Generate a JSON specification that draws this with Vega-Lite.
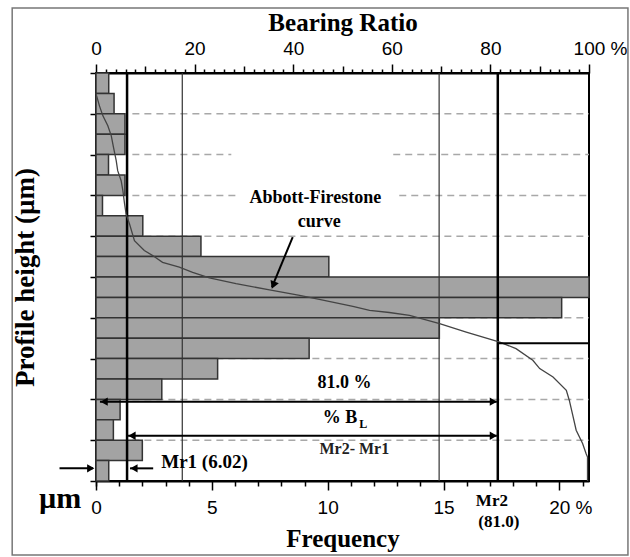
{
  "$schema": "https://vega.github.io/schema/vega-lite/v6.json",
  "width": 493,
  "height": 408,
  "autosize": {"type": "none"},
  "padding": {"left": 96, "top": 73, "right": 41, "bottom": 76},
  "background": "white",
  "config": {"view": {"stroke": "black", "strokeWidth": 2}, "axis": {"grid": false, "labelOverlap": false, "labelFlush": false}},
  "resolve": {"scale": {"x": "independent"}, "axis": {"x": "independent"}},
  "layer": [
    {
      "resolve": {"axis": {"x": "independent"}},
      "layer": [
        {
          "data": {"values": [
            {"lvl": 18, "f0": 1.57, "f1": 21.28},
            {"lvl": 16, "f0": 1.57, "f1": 5.84},
            {"lvl": 16, "f0": 12.83, "f1": 21.28},
            {"lvl": 14, "f0": 1.57, "f1": 6.06},
            {"lvl": 14, "f0": 13.09, "f1": 21.28},
            {"lvl": 12, "f0": 1.57, "f1": 21.28},
            {"lvl": 8, "f0": 1.57, "f1": 21.28},
            {"lvl": 6, "f0": 1.57, "f1": 21.28},
            {"lvl": 4, "f0": 1.57, "f1": 21.28},
            {"lvl": 2, "f0": 1.57, "f1": 21.28}
          ]},
          "mark": {"type": "rule", "strokeDash": [7, 5], "color": "#a8a8a8", "strokeWidth": 1.5},
          "encoding": {
            "x": {"field": "f0", "type": "quantitative",
              "scale": {"domain": [0, 21.28], "nice": false, "zero": false},
              "axis": {
                "orient": "bottom",
                "values": [0, 5, 10, 15, 20],
                "labelExpr": "datum.value === 20 ? '20 %' : datum.label",
                "labelOffset": {"condition": {"test": "datum.value === 20", "value": 11}, "value": 0},
                "tickSize": 9,
                "tickWidth": 1.5, "tickColor": "black",
                "domainColor": "black", "domainWidth": 2,
                "labelFont": "Liberation Sans", "labelFontSize": 19, "labelColor": "black",
                "labelPadding": 8, "labelFlush": false, "labelOverlap": false,
                "title": "Frequency", "titleFont": "Liberation Serif", "titleFontSize": 25,
                "titleFontWeight": "bold", "titleColor": "black", "titlePadding": 9
              }},
            "x2": {"field": "f1"},
            "y": {"field": "lvl", "type": "quantitative",
              "scale": {"domain": [0, 20], "nice": false, "zero": false},
              "axis": {
                "orient": "left",
                "values": [0,1,2,3,4,5,6,7,8,9,10,11,12,13,14,15,16,17,18,19,20],
                "labels": false,
                "tickSize": 6, "tickWidth": 1.5, "tickColor": "black",
                "domainColor": "black", "domainWidth": 2,
                "title": "Profile height (µm)", "titleFont": "Liberation Serif", "titleFontSize": 27,
                "titleFontWeight": "bold", "titleColor": "black", "titlePadding": 50
              }}
          }
        },
        {
          "data": {"values": [
            {"lo": 19, "hi": 20, "freq": 0.55},
            {"lo": 18, "hi": 19, "freq": 0.78},
            {"lo": 17, "hi": 18, "freq": 1.25},
            {"lo": 16, "hi": 17, "freq": 1.25},
            {"lo": 15, "hi": 16, "freq": 0.54},
            {"lo": 14, "hi": 15, "freq": 1.25},
            {"lo": 13, "hi": 14, "freq": 0.28},
            {"lo": 12, "hi": 13, "freq": 2.02},
            {"lo": 11, "hi": 12, "freq": 4.53},
            {"lo": 10, "hi": 11, "freq": 10.05},
            {"lo": 9, "hi": 10, "freq": 21.28},
            {"lo": 8, "hi": 9, "freq": 20.1},
            {"lo": 7, "hi": 8, "freq": 14.82},
            {"lo": 6, "hi": 7, "freq": 9.2},
            {"lo": 5, "hi": 6, "freq": 5.25},
            {"lo": 4, "hi": 5, "freq": 2.84},
            {"lo": 3, "hi": 4, "freq": 1.04},
            {"lo": 2, "hi": 3, "freq": 0.75},
            {"lo": 1, "hi": 2, "freq": 2.0},
            {"lo": 0, "hi": 1, "freq": 0.55}
          ]},
          "mark": {"type": "rect", "fill": "#a3a3a3", "stroke": "#333333", "strokeWidth": 1.5},
          "encoding": {
            "x": {"field": "freq", "type": "quantitative", "scale": {"domain": [0, 21.28], "nice": false, "zero": false},
              "axis": {
                "orient": "bottom",
                "values": [0,1,2,3,4,6,7,8,9,11,12,13,14,16,17,18,19,21],
                "labels": false, "domain": false, "title": null,
                "tickSize": 5, "tickWidth": 1.5, "tickColor": "black"
              }},
            "x2": {"datum": 0},
            "y": {"field": "lo", "type": "quantitative", "scale": {"domain": [0, 20], "nice": false, "zero": false}},
            "y2": {"field": "hi"}
          }
        }
      ]
    },
    {
      "resolve": {"axis": {"x": "independent"}},
      "layer": [
        {
          "data": {"values": [{"br": 6.3}, {"br": 81.5}]},
          "mark": {"type": "rule", "color": "black", "strokeWidth": 2.5},
          "encoding": {
            "x": {"field": "br", "type": "quantitative",
              "scale": {"domain": [0, 100], "nice": false, "zero": false},
              "axis": {
                "orient": "top",
                "values": [0, 20, 40, 60, 80, 100],
                "labelExpr": "datum.value === 100 ? '100 %' : datum.label",
                "labelOffset": {"condition": {"test": "datum.value === 100", "value": 11}, "value": 0},
                "tickSize": 9,
                "tickWidth": 1.5, "tickColor": "black",
                "domainColor": "black", "domainWidth": 2,
                "labelFont": "Liberation Sans", "labelFontSize": 19, "labelColor": "black",
                "labelPadding": 6, "labelFlush": false, "labelOverlap": false,
                "title": "Bearing Ratio", "titleFont": "Liberation Serif", "titleFontSize": 25,
                "titleFontWeight": "bold", "titleColor": "black", "titlePadding": 4
              }}
          }
        },
        {
          "data": {"values": [{"br": 17.5}, {"br": 69.6}]},
          "mark": {"type": "rule", "color": "#333333", "strokeWidth": 1.2},
          "encoding": {
            "x": {"field": "br", "type": "quantitative", "scale": {"domain": [0, 100], "nice": false, "zero": false},
              "axis": {
                "orient": "top",
                "values": [2,4,6,8,10,12,14,16,18,22,24,26,28,30,32,34,36,38,42,44,46,48,50,52,54,56,58,62,64,66,68,70,72,74,76,78,82,84,86,88,90,92,94,96,98],
                "labels": false, "domain": false, "title": null,
                "tickSize": {"condition": {"test": "datum.value % 10 === 0", "value": 7}, "value": 4},
                "tickWidth": 1.5, "tickColor": "black"
              }}
          }
        },
        {
          "data": {"values": [
            {"i": 0, "br": 0.1, "lvl": 18.9},
            {"i": 1, "br": 0.7, "lvl": 18.39},
            {"i": 2, "br": 1.4, "lvl": 17.9},
            {"i": 3, "br": 2.4, "lvl": 17.41},
            {"i": 4, "br": 3.1, "lvl": 16.92},
            {"i": 5, "br": 3.55, "lvl": 16.35},
            {"i": 6, "br": 4.1, "lvl": 15.7},
            {"i": 7, "br": 4.4, "lvl": 15.21},
            {"i": 8, "br": 5.1, "lvl": 14.72},
            {"i": 9, "br": 5.45, "lvl": 14.23},
            {"i": 10, "br": 5.8, "lvl": 13.58},
            {"i": 11, "br": 6.1, "lvl": 13.09},
            {"i": 12, "br": 6.8, "lvl": 12.6},
            {"i": 13, "br": 7.8, "lvl": 11.78},
            {"i": 14, "br": 9.8, "lvl": 11.3},
            {"i": 15, "br": 11.5, "lvl": 11.05},
            {"i": 16, "br": 13.5, "lvl": 10.72},
            {"i": 17, "br": 16.9, "lvl": 10.48},
            {"i": 18, "br": 19.6, "lvl": 10.23},
            {"i": 19, "br": 23.0, "lvl": 9.96},
            {"i": 20, "br": 28.4, "lvl": 9.67},
            {"i": 21, "br": 35.2, "lvl": 9.37},
            {"i": 22, "br": 41.3, "lvl": 9.1},
            {"i": 23, "br": 45.3, "lvl": 8.9},
            {"i": 24, "br": 52.1, "lvl": 8.56},
            {"i": 25, "br": 55.5, "lvl": 8.36},
            {"i": 26, "br": 59.5, "lvl": 8.26},
            {"i": 27, "br": 63.6, "lvl": 8.12},
            {"i": 28, "br": 69.7, "lvl": 7.71},
            {"i": 29, "br": 75.1, "lvl": 7.3},
            {"i": 30, "br": 81.9, "lvl": 6.81},
            {"i": 31, "br": 85.2, "lvl": 6.49},
            {"i": 32, "br": 88.6, "lvl": 5.92},
            {"i": 33, "br": 90.0, "lvl": 5.51},
            {"i": 34, "br": 92.7, "lvl": 5.1},
            {"i": 35, "br": 95.4, "lvl": 4.45},
            {"i": 36, "br": 96.0, "lvl": 3.96},
            {"i": 37, "br": 96.7, "lvl": 3.23},
            {"i": 38, "br": 97.4, "lvl": 2.49},
            {"i": 39, "br": 98.7, "lvl": 1.84},
            {"i": 40, "br": 99.4, "lvl": 1.35},
            {"i": 41, "br": 99.7, "lvl": 1.17},
            {"i": 42, "br": 99.7, "lvl": 0}
          ]},
          "mark": {"type": "line", "color": "#444444", "strokeWidth": 1.3},
          "encoding": {
            "x": {"field": "br", "type": "quantitative", "scale": {"domain": [0, 100], "nice": false, "zero": false}, "axis": null},
            "y": {"field": "lvl", "type": "quantitative", "scale": {"domain": [0, 20], "nice": false, "zero": false}},
            "order": {"field": "i", "type": "quantitative"}
          }
        },
        {
          "data": {"values": [
            {"x0": 0.8, "x1": 81.3, "y0": 3.89, "y1": 3.89},
            {"x0": 6.5, "x1": 81.3, "y0": 2.22, "y1": 2.22},
            {"x0": -7.4, "x1": -0.6, "y0": 0.62, "y1": 0.62},
            {"x0": 6.9, "x1": 11.6, "y0": 0.62, "y1": 0.62},
            {"x0": 39.9, "x1": 35.7, "y0": 11.96, "y1": 9.5},
            {"x0": 81.5, "x1": 100, "y0": 6.75, "y1": 6.75}
          ]},
          "mark": {"type": "rule", "color": "black", "strokeWidth": 2},
          "encoding": {
            "x": {"field": "x0", "type": "quantitative", "scale": {"domain": [0, 100], "nice": false, "zero": false}, "axis": null},
            "x2": {"field": "x1"},
            "y": {"field": "y0", "type": "quantitative", "scale": {"domain": [0, 20], "nice": false, "zero": false}},
            "y2": {"field": "y1"}
          }
        },
        {
          "data": {"values": [
            {"br": 1.65, "lvl": 3.89},
            {"br": 7.3, "lvl": 2.22},
            {"br": 7.7, "lvl": 0.62}
          ]},
          "mark": {"type": "point", "shape": "triangle-left", "filled": true, "color": "black", "opacity": 1, "size": 70},
          "encoding": {
            "x": {"field": "br", "type": "quantitative", "scale": {"domain": [0, 100], "nice": false, "zero": false}, "axis": null},
            "y": {"field": "lvl", "type": "quantitative", "scale": {"domain": [0, 20], "nice": false, "zero": false}}
          }
        },
        {
          "data": {"values": [
            {"br": 80.6, "lvl": 3.89},
            {"br": 80.6, "lvl": 2.22},
            {"br": -1.06, "lvl": 0.62}
          ]},
          "mark": {"type": "point", "shape": "triangle-right", "filled": true, "color": "black", "opacity": 1, "size": 70},
          "encoding": {
            "x": {"field": "br", "type": "quantitative", "scale": {"domain": [0, 100], "nice": false, "zero": false}, "axis": null},
            "y": {"field": "lvl", "type": "quantitative", "scale": {"domain": [0, 20], "nice": false, "zero": false}}
          }
        },
        {
          "data": {"values": [{"br": 35.95, "lvl": 9.6}]},
          "mark": {"type": "point", "shape": "triangle-down", "filled": true, "color": "black", "opacity": 1, "size": 80, "angle": 22},
          "encoding": {
            "x": {"field": "br", "type": "quantitative", "scale": {"domain": [0, 100], "nice": false, "zero": false}, "axis": null},
            "y": {"field": "lvl", "type": "quantitative", "scale": {"domain": [0, 20], "nice": false, "zero": false}}
          }
        },
        {
          "data": {"values": [
            {"t": "Abbott-Firestone", "br": 44.5, "lvl": 13.85},
            {"t": "curve", "br": 45.3, "lvl": 12.68}
          ]},
          "mark": {"type": "text", "font": "Liberation Serif", "fontWeight": "bold", "fontSize": 18, "color": "black", "align": "center", "baseline": "middle"},
          "encoding": {
            "x": {"field": "br", "type": "quantitative", "scale": {"domain": [0, 100], "nice": false, "zero": false}, "axis": null},
            "y": {"field": "lvl", "type": "quantitative", "scale": {"domain": [0, 20], "nice": false, "zero": false}},
            "text": {"field": "t"}
          }
        },
        {
          "data": {"values": [
            {"t": "Mr2", "br": 80.3, "lvl": -0.98},
            {"t": "(81.0)", "br": 81.7, "lvl": -2.03}
          ]},
          "mark": {"type": "text", "font": "Liberation Serif", "fontWeight": "bold", "fontSize": 17, "color": "black", "align": "center", "baseline": "middle"},
          "encoding": {
            "x": {"field": "br", "type": "quantitative", "scale": {"domain": [0, 100], "nice": false, "zero": false}, "axis": null},
            "y": {"field": "lvl", "type": "quantitative", "scale": {"domain": [0, 20], "nice": false, "zero": false}},
            "text": {"field": "t"}
          }
        },
        {
          "data": {"values": [
            {"t": "81.0 %", "br": 50.4, "lvl": 4.8},
            {"t": "% B", "br": 49.5, "lvl": 3.1}
          ]},
          "mark": {"type": "text", "font": "Liberation Serif", "fontWeight": "bold", "fontSize": 18, "color": "black", "align": "center", "baseline": "middle"},
          "encoding": {
            "x": {"field": "br", "type": "quantitative", "scale": {"domain": [0, 100], "nice": false, "zero": false}, "axis": null},
            "y": {"field": "lvl", "type": "quantitative", "scale": {"domain": [0, 20], "nice": false, "zero": false}},
            "text": {"field": "t"}
          }
        },
        {
          "data": {"values": [{"t": "L", "br": 54.2, "lvl": 2.78}]},
          "mark": {"type": "text", "font": "Liberation Serif", "fontWeight": "bold", "fontSize": 12, "color": "black", "align": "center", "baseline": "middle"},
          "encoding": {
            "x": {"field": "br", "type": "quantitative", "scale": {"domain": [0, 100], "nice": false, "zero": false}, "axis": null},
            "y": {"field": "lvl", "type": "quantitative", "scale": {"domain": [0, 20], "nice": false, "zero": false}},
            "text": {"field": "t"}
          }
        },
        {
          "data": {"values": [{"t": "Mr2- Mr1", "br": 52.4, "lvl": 1.57}]},
          "mark": {"type": "text", "font": "Liberation Serif", "fontWeight": "bold", "fontSize": 16, "color": "#222222", "align": "center", "baseline": "middle"},
          "encoding": {
            "x": {"field": "br", "type": "quantitative", "scale": {"domain": [0, 100], "nice": false, "zero": false}, "axis": null},
            "y": {"field": "lvl", "type": "quantitative", "scale": {"domain": [0, 20], "nice": false, "zero": false}},
            "text": {"field": "t"}
          }
        },
        {
          "data": {"values": [{"t": "Mr1 (6.02)", "br": 22.0, "lvl": 0.95}]},
          "mark": {"type": "text", "font": "Liberation Serif", "fontWeight": "bold", "fontSize": 19, "color": "black", "align": "center", "baseline": "middle"},
          "encoding": {
            "x": {"field": "br", "type": "quantitative", "scale": {"domain": [0, 100], "nice": false, "zero": false}, "axis": null},
            "y": {"field": "lvl", "type": "quantitative", "scale": {"domain": [0, 20], "nice": false, "zero": false}},
            "text": {"field": "t"}
          }
        },
        {
          "data": {"values": [{"t": "µm", "br": -3.0, "lvl": -0.9}]},
          "mark": {"type": "text", "font": "Liberation Serif", "fontWeight": "bold", "fontSize": 30, "color": "black", "align": "right", "baseline": "middle"},
          "encoding": {
            "x": {"field": "br", "type": "quantitative", "scale": {"domain": [0, 100], "nice": false, "zero": false}, "axis": null},
            "y": {"field": "lvl", "type": "quantitative", "scale": {"domain": [0, 20], "nice": false, "zero": false}},
            "text": {"field": "t"}
          }
        },
        {
          "data": {"values": [{"a": -17.0, "b": 107.9, "c": 23.19, "d": -3.63}]},
          "mark": {"type": "rect", "fill": "transparent", "stroke": "#777777", "strokeWidth": 1.5},
          "encoding": {
            "x": {"field": "a", "type": "quantitative", "scale": {"domain": [0, 100], "nice": false, "zero": false}, "axis": null},
            "x2": {"field": "b"},
            "y": {"field": "c", "type": "quantitative", "scale": {"domain": [0, 20], "nice": false, "zero": false}},
            "y2": {"field": "d"}
          }
        }
      ]
    }
  ]
}
